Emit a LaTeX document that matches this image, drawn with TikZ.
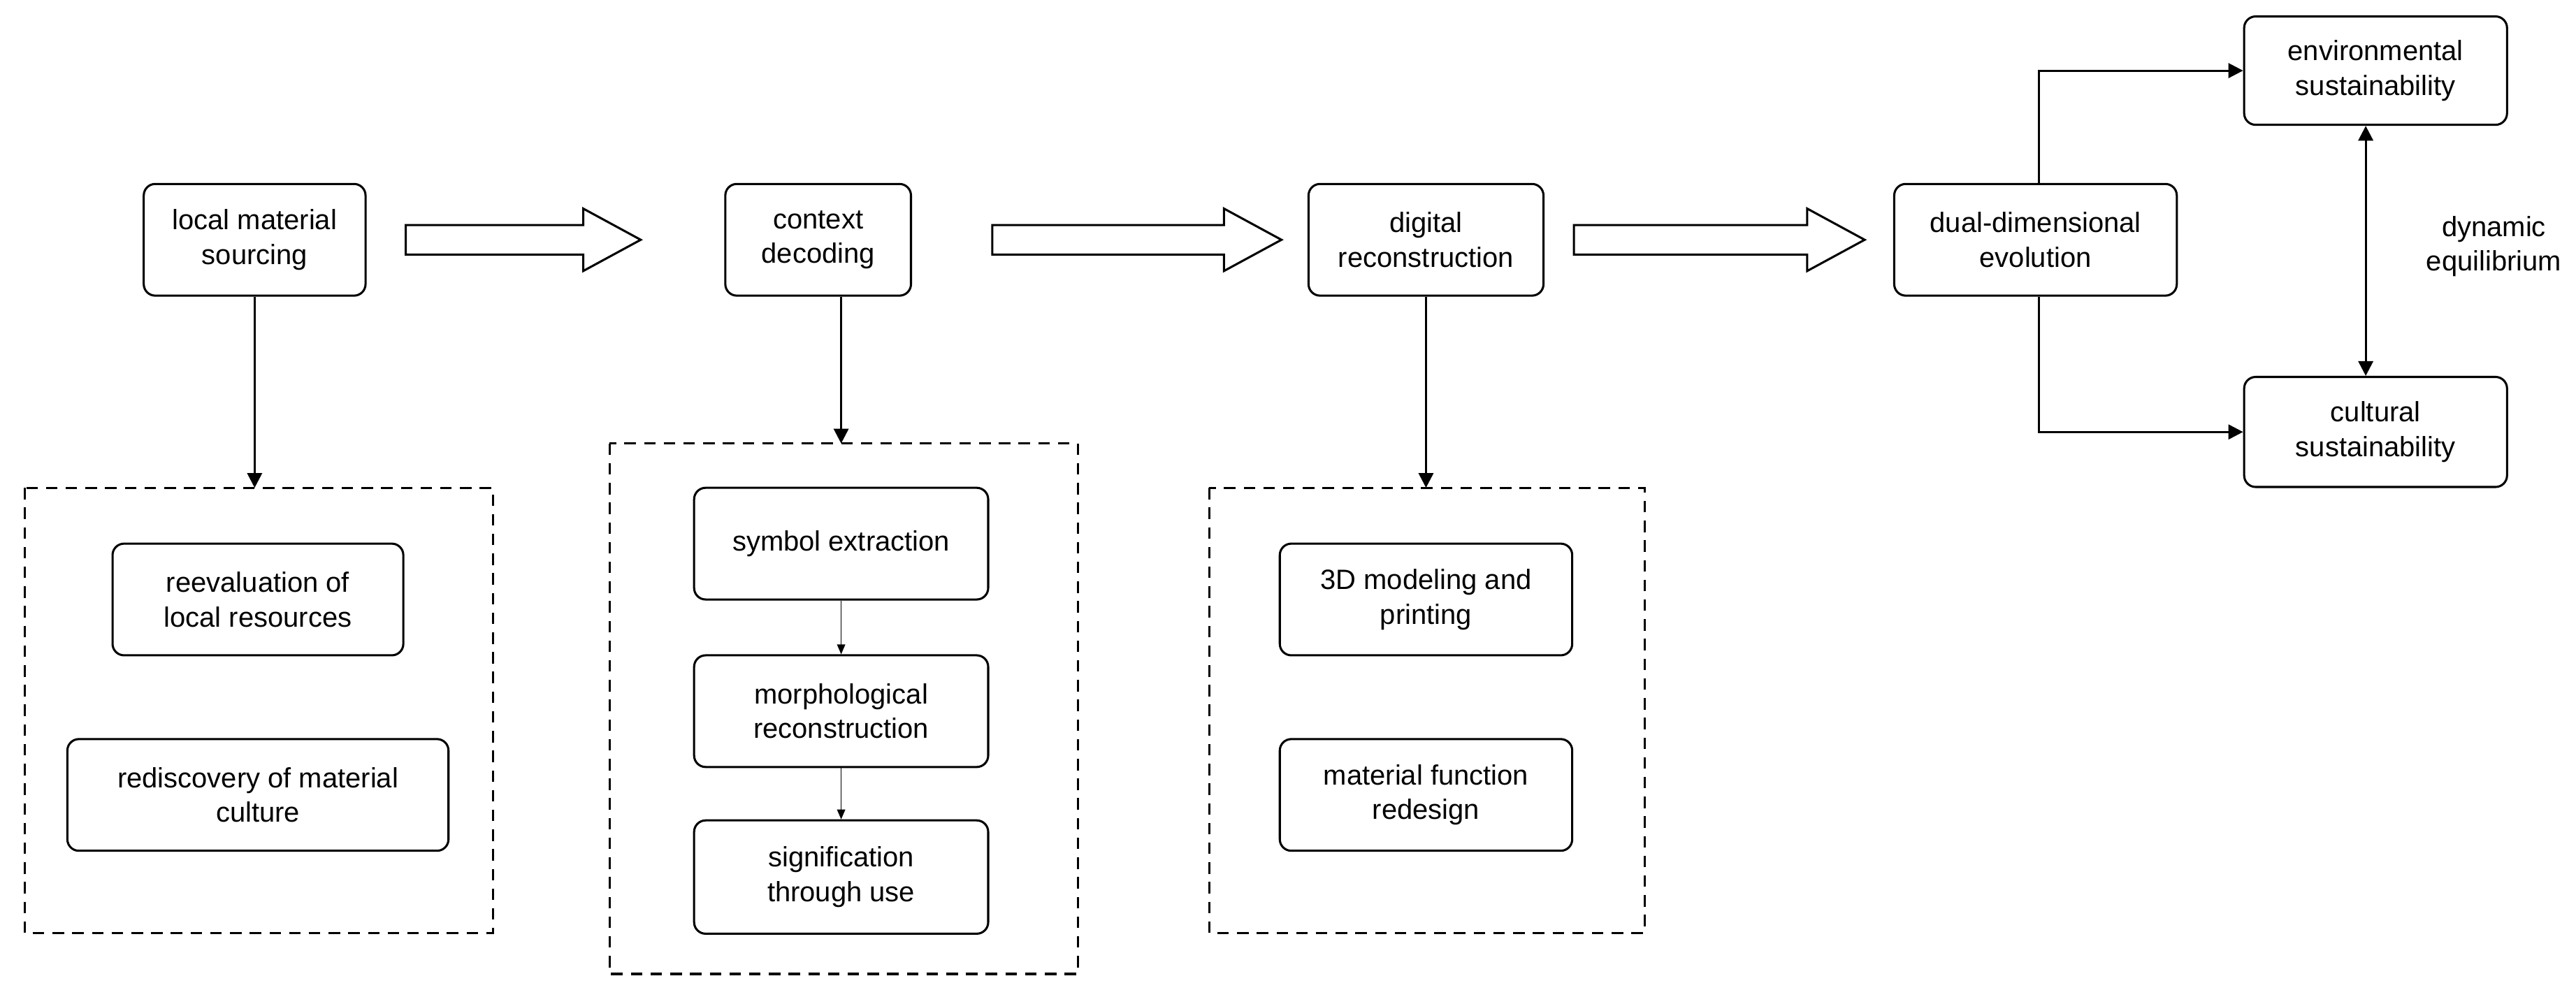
\documentclass[tikz,border=0pt]{standalone}
\usepackage{fontspec}
\setmainfont{Liberation Sans}
\usetikzlibrary{arrows.meta}
\begin{document}
\begin{tikzpicture}[x=1pt,y=-1pt,
  box/.style={draw,line width=1.3pt,rounded corners=7pt,align=center,font=\fontsize{17}{21}\selectfont,inner sep=0pt},
  dbox/.style={draw,line width=1.3pt,dash pattern=on 7pt off 5pt},
  arr/.style={line width=1.3pt,-{Triangle[length=9pt,width=9pt]}},
  tarr/.style={line width=0.6pt,-{Triangle[length=6pt,width=5pt]}},
  hol/.style={draw,line width=1.3pt,fill=white}]
\useasboundingbox (0,0) rectangle (1568,607);
\node[box,minimum width=135pt,minimum height=68pt] (a) at (155,146) {local material\\sourcing};
\node[box,minimum width=113pt,minimum height=68pt] (b) at (498,146) {context\\decoding};
\node[box,minimum width=143pt,minimum height=68pt] (c) at (868,146) {digital\\reconstruction};
\node[box,minimum width=172pt,minimum height=68pt] (d) at (1239,146) {dual-dimensional\\evolution};
\node[box,minimum width=160pt,minimum height=66pt] (e) at (1446,43) {environmental\\sustainability};
\node[box,minimum width=160pt,minimum height=67pt] (f) at (1446,263) {cultural\\sustainability};
\node[align=center,font=\fontsize{17}{21}\selectfont] (eq) at (1518,150) {dynamic\\equilibrium};
% hollow arrows
\foreach \x/\y in {247/390,604/780,958/1135}{
  \draw[hol] (\x,137) -- (\y-35,137) -- (\y-35,127) -- (\y,146) -- (\y-35,165) -- (\y-35,155) -- (\x,155) -- cycle;}
% dashed groups
\draw[dbox] (15,297) rectangle (300,568);
\draw[dbox] (371,270) rectangle (656,593);
\draw[dbox] (736,297) rectangle (1001,568);
\coordinate (g1) at (155,297);
\coordinate (g2) at (512,270);
\coordinate (g3) at (868,297);
\node[box,minimum width=177pt,minimum height=68pt] (a1) at (157,365) {reevaluation of\\local resources};
\node[box,minimum width=232pt,minimum height=68pt] (a2) at (157,484) {rediscovery of material\\culture};
\node[box,minimum width=179pt,minimum height=68pt] (b1) at (512,331) {symbol extraction};
\node[box,minimum width=179pt,minimum height=68pt] (b2) at (512,433) {morphological\\reconstruction};
\node[box,minimum width=179pt,minimum height=69pt] (b3) at (512,534) {signification\\through use};
\node[box,minimum width=178pt,minimum height=68pt] (c1) at (868,365) {3D modeling and\\printing};
\node[box,minimum width=178pt,minimum height=68pt] (c2) at (868,484) {material function\\redesign};
\draw[arr] (a.south) -- (g1);
\draw[arr] (b.south -| g2) -- (g2);
\draw[arr] (c.south) -- (g3);
\draw[tarr] (b1) -- (b2);
\draw[tarr] (b2) -- (b3);
\draw[arr] (d.north) ++(2,0) |- (e.west);
\draw[arr] (d.south) ++(2,0) |- (f.west);
\draw[line width=1.3pt,{Triangle[length=9pt,width=9pt]}-{Triangle[length=9pt,width=9pt]}] (e.south -| 1440,0) -- (f.north -| 1440,0);
\end{tikzpicture}
\end{document}
